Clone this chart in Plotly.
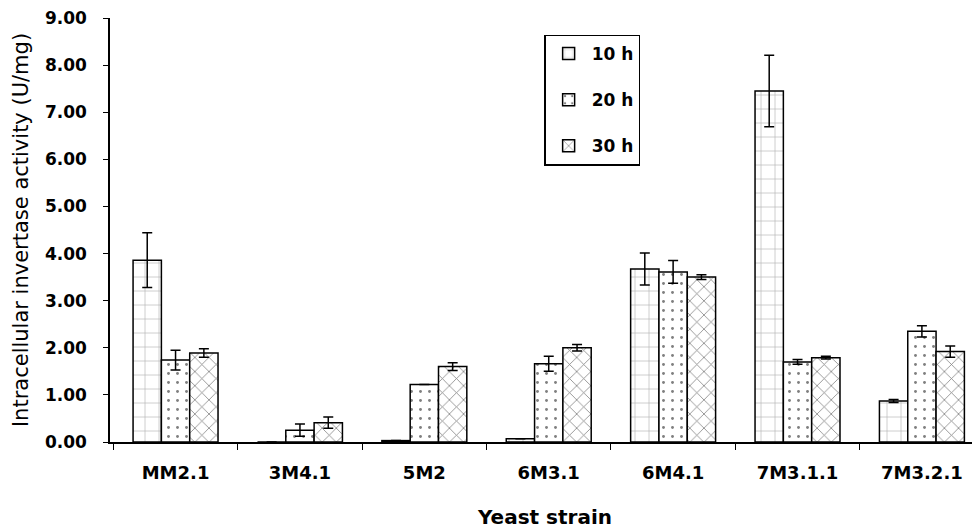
import plotly.graph_objects as go

strains = ["MM2.1", "3M4.1", "5M2", "6M3.1", "6M4.1", "7M3.1.1", "7M3.2.1"]
series_names = ["10 h", "20 h", "30 h"]
v10 = [3.86, 0.0, 0.03, 0.07, 3.67, 7.45, 0.87]
e10 = [0.58, 0.0, 0.0, 0.0, 0.34, 0.76, 0.03]
v20 = [1.74, 0.25, 1.22, 1.66, 3.61, 1.70, 2.35]
e20 = [0.21, 0.13, 0.0, 0.16, 0.24, 0.05, 0.12]
v30 = [1.89, 0.41, 1.60, 2.00, 3.50, 1.79, 1.92]
e30 = [0.09, 0.12, 0.08, 0.07, 0.05, 0.03, 0.12]

values = [v10, v20, v30]
errors = [e10, e20, e30]
patterns = [
    dict(shape="+", fgcolor="#555555", bgcolor="white", size=14, solidity=0.08),
    dict(shape=".", fgcolor="black", bgcolor="white", size=9, solidity=0.08),
    dict(shape="x", fgcolor="black", bgcolor="white", size=10, solidity=0.15),
]

fig = go.Figure()
for i, name in enumerate(series_names):
    fig.add_trace(go.Bar(
        x=strains, y=values[i], name=name, legendgroup=name,
        marker=dict(color="white", pattern=patterns[i], line=dict(color="black", width=1.5)),
        error_y=dict(type="data", array=errors[i], visible=True, color="black", thickness=1.5, width=5),
    ))

# page body adds an 8px offset, so the figure is sized to fit the window after that offset
fig.update_layout(
    width=972, height=522,
    margin=dict(l=102, r=0, t=10, b=88),
    paper_bgcolor="white", plot_bgcolor="white",
    barmode="group", bargap=0.317, bargroupgap=0,
    font=dict(family="DejaVu Sans", color="black"),
    showlegend=True,
    legend=dict(
        x=0.499, y=0.961, xanchor="left", yanchor="top",
        bordercolor="black", borderwidth=1.5, bgcolor="white",
        font=dict(family="DejaVu Sans", size=17, weight="bold"),
        tracegroupgap=21, traceorder="grouped", itemwidth=36,
    ),
    xaxis=dict(
        type="category", range=[-0.527, 6.467], automargin=False,
        showline=True, linecolor="black", linewidth=1.5,
        ticks="outside", tickson="boundaries", ticklen=6, tickcolor="black",
        ticklabelstandoff=14, ticklabeloverflow="allow",
        tickfont=dict(family="DejaVu Sans", size=18, weight="bold"),
        title=dict(text="Yeast strain", font=dict(family="DejaVu Sans", size=20, weight="bold"), standoff=28),
        showgrid=False,
    ),
    yaxis=dict(
        range=[0, 9], dtick=1, tickformat=".2f", automargin=False,
        showline=True, linecolor="black", linewidth=1.5,
        ticks="outside", ticklen=5, tickcolor="black",
        ticklabelstandoff=13, ticklabeloverflow="allow",
        tickfont=dict(family="DejaVu Sans", size=17, weight="bold"),
        title=dict(text="Intracellular invertase activity (U/mg)", font=dict(family="DejaVu Sans", size=21), standoff=11),
        showgrid=False, zeroline=False,
    ),
)

fig.write_html("out.html")
